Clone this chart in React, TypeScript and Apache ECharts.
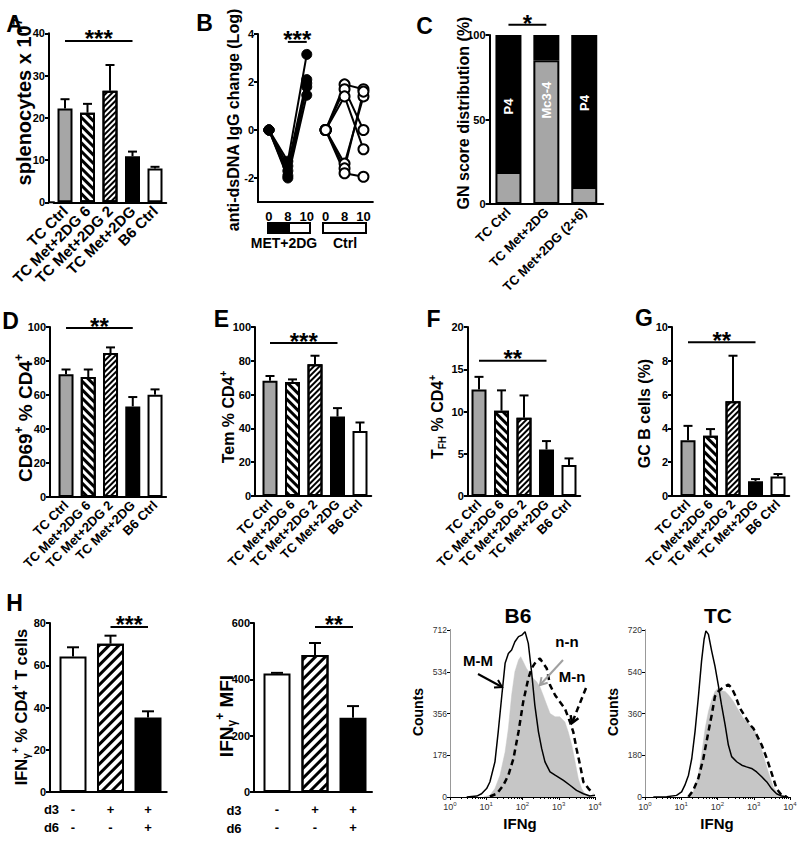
import React, { useEffect, useRef } from 'react';
import * as echarts from 'echarts';

const FONT = "'Liberation Sans', Arial, Helvetica, sans-serif";

// ---------------- data ----------------
const barCategories = ['TC Ctrl', 'TC Met+2DG 6', 'TC Met+2DG 2', 'TC Met+2DG', 'B6 Ctrl'];
const splenoMean = [22.2, 21.2, 26.4, 10.9, 8.0];
const splenoErr = [24.4, 23.3, 32.5, 12.0, 8.4];
const cd69Mean = [72.2, 70.6, 84.7, 53.3, 60.2];
const cd69Err = [75.0, 75.0, 88.0, 58.8, 63.3];
const temMean = [68.2, 67.4, 78.0, 47.0, 38.5];
const temErr = [71.0, 69.0, 83.0, 52.0, 43.5];
const tfhMean = [12.6, 10.1, 9.25, 5.5, 3.66];
const tfhErr = [14.1, 12.5, 11.9, 6.5, 4.45];
const gcMean = [3.3, 3.56, 5.6, 0.88, 1.15];
const gcErr = [4.15, 3.96, 8.3, 1.0, 1.3];

const dsDnaCategories = ['MET+2DG 0', 'MET+2DG 8', 'MET+2DG 10', 'Ctrl 0', 'Ctrl 8', 'Ctrl 10'];
const dsDnaTickLabels = ['0', '8', '10', '0', '8', '10'];
const dsDnaTicks = [-2, 0, 2, 4];
const metMice = [
  [0, -1.3, 3.15],
  [0, -1.5, 2.1],
  [0, -1.7, 1.95],
  [0, -1.9, 1.8],
  [0, -2.0, 1.45],
];
const ctrlMice = [
  [0, 1.9, 1.7],
  [0, 1.7, 0],
  [0, 1.4, -0.8],
  [0, -1.4, 1.4],
  [0, -1.6, 1.6],
  [0, -1.8, -1.95],
];

const gnCategories = ['TC Ctrl', 'TC Met+2DG', 'TC Met+2DG (2+6)'];
const gnGray = [19, 85, 10];
const gnBlack = [81, 15, 90];
const gnBlackLabels = ['P4', '', 'P4'];
const gnGrayLabels = ['', 'Mc3-4', ''];

const d3Signs = ['-', '+', '+'];
const d6Signs = ['-', '-', '+'];
const ifnPctMean = [64.2, 70.2, 35.3];
const ifnPctErr = [68.5, 74.0, 38.2];
const ifnMfiMean = [421, 486, 264];
const ifnMfiErr = [423, 529, 305];

// significance bars: [from category, to category, y value]
const sigA = [0, 3, 38.2];
const sigB = [1, 2, 3.67];
const sigC = [0, 1, 106];
const sigD = [0, 3, 99.4];
const sigE = [0, 3, 90.5];
const sigF = [0, 3, 16];
const sigG = [0, 3, 9.1];
const sigH1 = [1, 2, 78.1];
const sigH2 = [1, 2, 586];
const starsA = '***', starsB = '***', starsC = '*', starsD = '**', starsE = '***', starsF = '**', starsG = '**', starsH1 = '***', starsH2 = '**';

// flow histograms: x = log10(IFNg), y = counts
const b6MMx = [0.46, 0.74, 0.87, 1.01, 1.10, 1.24, 1.33, 1.43, 1.52, 1.61, 1.70, 1.79, 1.89, 1.98, 2.07, 2.16, 2.25, 2.34, 2.44, 2.53, 2.62, 2.76, 2.90, 3.13, 3.31, 3.49, 3.68, 3.86, 4.0];
const b6MMy = [0, 4, 14, 36, 64, 150, 278, 434, 570, 612, 627, 662, 684, 690, 705, 655, 534, 392, 278, 206, 150, 107, 93, 71, 50, 28, 14, 4, 7];
const b6NNx = [0.92, 1.10, 1.24, 1.38, 1.52, 1.61, 1.70, 1.79, 1.89, 1.95, 2.02, 2.11, 2.21, 2.30, 2.39, 2.48, 2.57, 2.67, 2.76, 2.90, 3.03, 3.17, 3.26, 3.36, 3.45, 3.54, 3.63, 3.72, 3.86];
const b6NNy = [0, 7, 36, 93, 192, 292, 434, 534, 584, 598, 577, 548, 527, 505, 491, 470, 434, 392, 356, 342, 342, 320, 278, 221, 150, 78, 36, 14, 4];
const b6MNx = [1.10, 1.29, 1.47, 1.61, 1.75, 1.89, 2.02, 2.16, 2.25, 2.34, 2.48, 2.57, 2.67, 2.76, 2.90, 3.03, 3.17, 3.31, 3.40, 3.49, 3.59, 3.68, 3.82, 3.95];
const b6MNy = [2, 14, 50, 93, 164, 278, 406, 505, 548, 570, 591, 570, 548, 477, 434, 406, 377, 320, 278, 206, 135, 64, 36, 14];
const tcMMx = [0.23, 0.60, 0.87, 1.01, 1.10, 1.20, 1.29, 1.38, 1.47, 1.56, 1.63, 1.68, 1.75, 1.84, 1.93, 2.02, 2.11, 2.21, 2.30, 2.39, 2.53, 2.67, 2.80, 2.94, 3.08, 3.22, 3.36, 3.49, 3.63, 3.77, 3.95];
const tcMMy = [0, 1, 7, 22, 51, 94, 166, 282, 427, 586, 680, 716, 701, 629, 564, 484, 398, 311, 224, 174, 152, 137, 130, 123, 108, 87, 65, 36, 14, 4, 0];
const tcNNx = [1.15, 1.33, 1.47, 1.56, 1.66, 1.75, 1.84, 1.93, 2.02, 2.11, 2.21, 2.30, 2.44, 2.57, 2.71, 2.85, 2.99, 3.13, 3.26, 3.40, 3.54, 3.68, 3.82];
const tcNNy = [0, 22, 94, 181, 296, 369, 419, 455, 470, 458, 455, 441, 412, 376, 340, 318, 296, 253, 181, 108, 43, 10, 1];
const tcMNx = [1.20, 1.33, 1.47, 1.61, 1.75, 1.84, 1.93, 2.02, 2.11, 2.21, 2.30, 2.39, 2.48, 2.62, 2.76, 2.90, 2.99, 3.08, 3.22, 3.36, 3.45, 3.54, 3.63, 3.77, 3.91];
const tcMNy = [1, 29, 80, 166, 282, 354, 434, 455, 467, 477, 484, 470, 441, 383, 347, 311, 296, 268, 224, 166, 123, 80, 36, 7, 1];
const b6Ticks = [0, 178, 356, 534, 712];
const tcTicks = [0, 180, 360, 540, 720];

// ---------------- styles ----------------
const hatchBack = { symbol: 'rect', symbolSize: 1, dashArrayX: [1, 0], dashArrayY: [2.2, 2.6], rotation: Math.PI / 4, color: '#000' };
const hatchFwd = { symbol: 'rect', symbolSize: 1, dashArrayX: [1, 0], dashArrayY: [1.6, 2.0], rotation: -Math.PI / 4, color: '#000' };
const hatchFwdH = { symbol: 'rect', symbolSize: 1, dashArrayX: [1, 0], dashArrayY: [2.4, 3.4], rotation: -Math.PI / 4, color: '#000' };
const barFills = ['#a6a6a6', '#ffffff', '#ffffff', '#000000', '#ffffff'];
const barDecals: any[] = [undefined, hatchBack, hatchFwd, undefined, undefined];
const hFills = ['#ffffff', '#ffffff', '#000000'];
const hDecals: any[] = [undefined, hatchFwdH, undefined];
const gnBlackLabelShift = [-3, 0, 8];
const gnGrayLabelShift = [0, 32, 0];
const STAR_FS = 24;

type G = { l: number; t: number; w: number; h: number; off: number };
const GA: G = { l: 53.75, t: 33.3, w: 112.5, h: 169, off: 4.75 };
const GB: G = { l: 259.5, t: 34, w: 113.4, h: 168, off: 1.5 };
const GC: G = { l: 489.5, t: 35, w: 113.7, h: 169, off: 0 };
const GD: G = { l: 54.9, t: 327, w: 111.25, h: 170, off: 4.9 };
const GE: G = { l: 258.75, t: 327, w: 112.5, h: 169, off: 3.75 };
const GF: G = { l: 467.75, t: 327, w: 112.5, h: 169, off: 0 };
const GG: G = { l: 676.75, t: 327, w: 112.5, h: 169, off: 4.75 };
const GH1: G = { l: 54.25, t: 623, w: 112.5, h: 169, off: 4.25 };
const GH2: G = { l: 258, t: 623, w: 114, h: 169, off: 4 };
const GB6: G = { l: 450, t: 630, w: 145, h: 167, off: 0 };
const GTC: G = { l: 645, t: 630, w: 145, h: 167, off: 0 };

function richT(fs: number) {
  return {
    n: { fontSize: fs, fontWeight: 'bold', fontFamily: FONT, fill: '#000', lineHeight: Math.round(fs * 1.25) },
    sup: { fontSize: Math.round(fs * 0.62), fontWeight: 'bold', fontFamily: FONT, fill: '#000', verticalAlign: 'top' },
    sub: { fontSize: Math.round(fs * 0.62), fontWeight: 'bold', fontFamily: FONT, fill: '#000', verticalAlign: 'bottom' },
  };
}

function buildOption() {
  const grid: any[] = [];
  const xAxis: any[] = [];
  const yAxis: any[] = [];
  const series: any[] = [];
  const graphic: any[] = [];
  const axisLineStyle = { color: '#000', width: 2 };
  const tickStyle = { color: '#000', width: 2 };

  function addGrid(g: G) {
    grid.push({ left: g.l, top: g.t, width: g.w, height: g.h, containLabel: false, outerBoundsMode: 'none' });
    if (g.off > 0) {
      graphic.push({ type: 'line', z: 50, shape: { x1: g.l - g.off - 1, y1: g.t + g.h, x2: g.l + 1, y2: g.t + g.h }, style: { stroke: '#000', lineWidth: 2 } });
    }
    return grid.length - 1;
  }

  function valueY(gi: number, g: G, min: number, max: number, interval: number | undefined, fs: number, extra: any = {}) {
    return {
      type: 'value', gridIndex: gi, min, max, interval, offset: g.off,
      axisLine: { show: true, onZero: false, lineStyle: axisLineStyle },
      axisTick: { show: true, length: 4, lineStyle: tickStyle },
      axisLabel: { fontSize: fs, fontWeight: 'bold', fontFamily: FONT, color: '#000', margin: 4 },
      splitLine: { show: false },
      ...extra,
    };
  }

  function errSeries(ai: number, mean: number[], err: number[], capW: number) {
    return {
      type: 'custom', xAxisIndex: ai, yAxisIndex: ai, z: 3, silent: true,
      data: mean.map((m, i) => [i, m, err[i]]),
      encode: { x: 0, y: [1, 2] },
      renderItem: (_p: any, api: any) => {
        const i = api.value(0), m = api.value(1), e = api.value(2);
        const p0 = api.coord([i, m]);
        const p1 = api.coord([i, e]);
        return {
          type: 'group', children: [
            { type: 'line', shape: { x1: p0[0], y1: p0[1], x2: p1[0], y2: p1[1] }, style: { stroke: '#000', lineWidth: 2 } },
            { type: 'line', shape: { x1: p1[0] - capW / 2, y1: p1[1], x2: p1[0] + capW / 2, y2: p1[1] }, style: { stroke: '#000', lineWidth: 2 } },
          ],
        };
      },
    };
  }

  function sigSeries(ai: number, sig: number[], text: string, fs: number, gap: number) {
    return {
      type: 'custom', xAxisIndex: ai, yAxisIndex: ai, z: 4, silent: true, clip: false,
      data: [sig],
      encode: { x: [0, 1], y: 2 },
      renderItem: (_p: any, api: any) => {
        const p0 = api.coord([api.value(0), api.value(2)]);
        const p1 = api.coord([api.value(1), api.value(2)]);
        return {
          type: 'group', children: [
            { type: 'line', shape: { x1: p0[0], y1: p0[1], x2: p1[0], y2: p1[1] }, style: { stroke: '#000', lineWidth: 2 } },
            { type: 'text', x: (p0[0] + p1[0]) / 2, y: p0[1] - gap, style: { text, fontSize: fs, fontWeight: 'bold', fontFamily: FONT, fill: '#000', align: 'center', verticalAlign: 'middle' } },
          ],
        };
      },
    };
  }

  const catLabel = (fs: number) => ({ rotate: 45, interval: 0, margin: 6, fontSize: fs, fontWeight: 'bold', fontFamily: FONT, color: '#000' });

  function barPanel(g: G, mean: number[], err: number[], max: number, interval: number, sig: number[], stars: string, labelFs: number) {
    const gi = addGrid(g);
    xAxis.push({
      type: 'category', gridIndex: gi, data: barCategories,
      axisLine: { onZero: false, lineStyle: axisLineStyle },
      axisTick: { alignWithLabel: true, length: 4, lineStyle: tickStyle },
      axisLabel: catLabel(labelFs),
      splitLine: { show: false },
    });
    yAxis.push(valueY(gi, g, 0, max, interval, 11));
    series.push({
      type: 'bar', xAxisIndex: gi, yAxisIndex: gi, barWidth: 15, z: 2,
      itemStyle: { borderColor: '#000', borderWidth: 2 },
      data: mean.map((v, i) => ({ value: v, itemStyle: { color: barFills[i], decal: barDecals[i] } })),
    });
    series.push(errSeries(gi, mean, err, 9));
    series.push(sigSeries(gi, sig, stars, STAR_FS, 2));
  }

  // A
  barPanel(GA, splenoMean, splenoErr, 40, 10, sigA, starsA, 15);

  // B
  {
    const gi = addGrid(GB);
    xAxis.push({
      type: 'category', gridIndex: gi, data: dsDnaCategories,
      axisLine: { onZero: false, lineStyle: axisLineStyle },
      axisTick: { alignWithLabel: true, length: 4, lineStyle: tickStyle },
      axisLabel: { interval: 0, margin: 8, fontSize: 13, fontWeight: 'bold', fontFamily: FONT, color: '#000', formatter: (_v: any, i: number) => dsDnaTickLabels[i] },
      splitLine: { show: false },
    });
    yAxis.push(valueY(gi, GB, -3, 4, undefined, 11, {
      axisTick: { show: true, length: 4, lineStyle: tickStyle, customValues: dsDnaTicks },
      axisLabel: { fontSize: 11, fontWeight: 'bold', fontFamily: FONT, color: '#000', margin: 4, customValues: dsDnaTicks },
    }));
    metMice.forEach((m) => {
      series.push({
        type: 'line', xAxisIndex: gi, yAxisIndex: gi, z: 5, symbol: 'circle', symbolSize: 10, showAllSymbol: true,
        lineStyle: { color: '#000', width: 2 }, itemStyle: { color: '#000', borderColor: '#000', borderWidth: 1 },
        data: m.map((v, i) => [i, v]),
      });
    });
    ctrlMice.forEach((m) => {
      series.push({
        type: 'line', xAxisIndex: gi, yAxisIndex: gi, z: 5, symbol: 'circle', symbolSize: 10, showAllSymbol: true,
        lineStyle: { color: '#000', width: 2 }, itemStyle: { color: '#fff', borderColor: '#000', borderWidth: 2 },
        data: m.map((v, i) => [i + 3, v]),
      });
    });
    series.push(sigSeries(gi, sigB, starsB, STAR_FS, 2));
  }

  // C
  {
    const gi = addGrid(GC);
    xAxis.push({
      type: 'category', gridIndex: gi, data: gnCategories,
      axisLine: { onZero: false, lineStyle: axisLineStyle },
      axisTick: { alignWithLabel: true, length: 4, lineStyle: tickStyle },
      axisLabel: catLabel(13),
      splitLine: { show: false },
    });
    yAxis.push(valueY(gi, GC, 0, 100, 50, 11));
    const lab = { show: true, position: 'inside', rotate: 90, color: '#fff', fontSize: 13, fontWeight: 'bold', fontFamily: FONT };
    series.push({
      type: 'bar', xAxisIndex: gi, yAxisIndex: gi, stack: 'gn', barWidth: 26, z: 2,
      itemStyle: { color: '#a6a6a6', borderColor: '#000', borderWidth: 2 },
      data: gnGray.map((v, i) => ({ value: v, label: gnGrayLabels[i] ? { ...lab, formatter: gnGrayLabels[i], offset: [gnGrayLabelShift[i], 0] } : { show: false } })),
    });
    series.push({
      type: 'bar', xAxisIndex: gi, yAxisIndex: gi, stack: 'gn', barWidth: 26, z: 2,
      itemStyle: { color: '#000', borderColor: '#000', borderWidth: 2 },
      data: gnBlack.map((v, i) => ({ value: v, label: gnBlackLabels[i] ? { ...lab, formatter: gnBlackLabels[i], offset: [gnBlackLabelShift[i], 0] } : { show: false } })),
    });
    series.push(sigSeries(gi, sigC, starsC, STAR_FS, 1));
  }

  // D E F G
  barPanel(GD, cd69Mean, cd69Err, 100, 20, sigD, starsD, 13);
  barPanel(GE, temMean, temErr, 100, 20, sigE, starsE, 13);
  barPanel(GF, tfhMean, tfhErr, 20, 5, sigF, starsF, 13);
  barPanel(GG, gcMean, gcErr, 10, 2, sigG, starsG, 13);

  // H1, H2
  function hPanel(g: G, mean: number[], err: number[], max: number, interval: number, sig: number[], stars: string) {
    const gi = addGrid(g);
    xAxis.push({
      type: 'category', gridIndex: gi, data: d3Signs.map((d, i) => d + '\n' + d6Signs[i]),
      axisLine: { onZero: false, lineStyle: axisLineStyle },
      axisTick: { alignWithLabel: true, length: 4, lineStyle: tickStyle },
      axisLabel: { interval: 0, margin: 8, fontSize: 13, lineHeight: 18, fontWeight: 'bold', fontFamily: FONT, color: '#000' },
      splitLine: { show: false },
    });
    yAxis.push(valueY(gi, g, 0, max, interval, 11));
    series.push({
      type: 'bar', xAxisIndex: gi, yAxisIndex: gi, barWidth: 27, z: 2,
      itemStyle: { borderColor: '#000', borderWidth: 2 },
      data: mean.map((v, i) => ({ value: v, itemStyle: { color: hFills[i], decal: hDecals[i] } })),
    });
    series.push(errSeries(gi, mean, err, 12));
    series.push(sigSeries(gi, sig, stars, STAR_FS - 1, 2));
  }
  hPanel(GH1, ifnPctMean, ifnPctErr, 80, 20, sigH1, starsH1);
  hPanel(GH2, ifnMfiMean, ifnMfiErr, 600, 200, sigH2, starsH2);

  // histograms
  const minorTicks: number[] = [];
  for (let n = 0; n < 4; n++) for (let k = 2; k <= 9; k++) minorTicks.push(n + Math.log10(k));

  function histPanel(g: G, max: number, ticks: number[], mmx: number[], mmy: number[], nnx: number[], nny: number[], mnx: number[], mny: number[]) {
    const gi = addGrid(g);
    xAxis.push({
      type: 'value', gridIndex: gi, min: 0, max: 4, interval: 1,
      axisLine: { onZero: false, lineStyle: { color: '#000', width: 1 } },
      axisTick: { show: true, length: 3, lineStyle: { color: '#000', width: 1 } },
      axisLabel: {
        margin: 4, formatter: (v: number) => '{b|10}{s|' + v + '}',
        rich: {
          b: { fontSize: 9, fontFamily: FONT, color: '#333', lineHeight: 12 },
          s: { fontSize: 6, fontFamily: FONT, color: '#333', verticalAlign: 'top' },
        },
      },
      splitLine: { show: false },
    });
    yAxis.push({
      type: 'value', gridIndex: gi, min: 0, max,
      axisLine: { show: true, onZero: false, lineStyle: { color: '#000', width: 1 } },
      axisTick: { show: true, length: 3, lineStyle: { color: '#000', width: 1 }, customValues: ticks },
      axisLabel: { fontSize: 8.5, fontFamily: FONT, color: '#333', margin: 3, customValues: ticks },
      splitLine: { show: false },
    });
    series.push({
      type: 'line', xAxisIndex: gi, yAxisIndex: gi, z: 1, symbol: 'none', silent: true,
      lineStyle: { color: '#c6c6c6', width: 0.5 }, areaStyle: { color: '#c6c6c6', opacity: 1 },
      data: nnx.map((x, i) => [x, nny[i]]),
    });
    series.push({
      type: 'line', xAxisIndex: gi, yAxisIndex: gi, z: 2, symbol: 'none', silent: true,
      lineStyle: { color: '#000', width: 1.5 },
      data: mmx.map((x, i) => [x, mmy[i]]),
    });
    series.push({
      type: 'line', xAxisIndex: gi, yAxisIndex: gi, z: 3, symbol: 'none', silent: true,
      lineStyle: { color: '#000', width: 2.5, type: [6, 4] },
      data: mnx.map((x, i) => [x, mny[i]]),
    });
    return gi;
  }
  const gB6 = histPanel(GB6, 712, b6Ticks, b6MMx, b6MMy, b6NNx, b6NNy, b6MNx, b6MNy);
  const gTC = histPanel(GTC, 720, tcTicks, tcMMx, tcMMy, tcNNx, tcNNy, tcMNx, tcMNy);
  [[gB6, 712], [gTC, 720]].forEach(([gi, max]) => {
    xAxis.push({
      type: 'value', gridIndex: gi, min: 0, max: 4, position: 'bottom',
      axisLine: { show: false }, axisLabel: { show: false }, splitLine: { show: false },
      axisTick: { show: true, length: 2, lineStyle: { color: '#000', width: 1 }, customValues: minorTicks },
    });
    yAxis.push({
      type: 'value', gridIndex: gi, min: 0, max, position: 'right',
      axisLine: { show: true, lineStyle: { color: '#999', width: 1 } },
      axisTick: { show: false }, axisLabel: { show: false }, splitLine: { show: false },
    });
  });

  // ---------------- decorations ----------------
  const letters: [string, number, number][] = [
    ['A', 14.5, 24], ['B', 204.5, 23], ['C', 424.5, 25.5], ['D', 10.5, 320.5],
    ['E', 221.5, 319], ['F', 433.5, 319], ['G', 644, 318], ['H', 14.5, 602.5],
  ];
  letters.forEach(([t, x, y]) => graphic.push({
    type: 'text', z: 50, x, y, style: { text: t, fontSize: 23, fontWeight: 'bold', fontFamily: FONT, fill: '#000', align: 'center', verticalAlign: 'middle' },
  }));

  const yTitles: [string, number, number, number][] = [
    ['{n|splenocytes x 10}{sup|7}', 20, 24, 102],
    ['{n|anti-dsDNA IgG change (Log)}', 16, 233, 120],
    ['{n|GN score distribution (%)}', 16, 463, 113],
    ['{n|CD69}{sup|+}{n| % CD4}{sup|+}', 19, 25, 418],
    ['{n|Tem % CD4}{sup|+}', 16, 228, 417],
    ['{n|T}{sub|FH}{n| % CD4}{sup|+}', 16, 437, 417],
    ['{n|GC B cells (%)}', 16, 644, 413.5],
    ['{n|IFN}{sub|γ}{sup|+}{n| % CD4}{sup|+}{n| T cells}', 16.5, 21, 707],
    ['{n|IFN}{sub|γ}{sup|+}{n| MFI}', 19, 226, 716],
  ];
  yTitles.forEach(([t, fs, x, y]) => graphic.push({
    type: 'text', z: 55, x, y, rotation: Math.PI / 2,
    style: { text: t, rich: richT(fs), fontSize: fs, fontWeight: 'bold', fontFamily: FONT, fill: '#000', align: 'center', verticalAlign: 'middle' },
  }));

  // B legend boxes
  graphic.push({ type: 'rect', z: 50, shape: { x: 268, y: 223, width: 21, height: 10 }, style: { fill: '#000', stroke: '#000', lineWidth: 2 } });
  graphic.push({ type: 'rect', z: 50, shape: { x: 289, y: 223, width: 21, height: 10 }, style: { fill: '#fff', stroke: '#000', lineWidth: 2 } });
  graphic.push({ type: 'rect', z: 50, shape: { x: 323, y: 223, width: 43, height: 10 }, style: { fill: '#fff', stroke: '#000', lineWidth: 2 } });
  const plainTexts: [string, number, number, number][] = [
    ['MET+2DG', 14, 284, 243], ['Ctrl', 14, 345, 243],
    ['d3', 13, 51.5, 809], ['d6', 13, 51.5, 827], ['d3', 13, 234, 810], ['d6', 13, 234, 828],
    ['B6', 21, 518, 615], ['TC', 21, 718, 615],
    ['IFNg', 15, 520, 823], ['IFNg', 15, 717, 823],
    ['M-M', 15, 478, 660], ['n-n', 15, 567, 641], ['M-n', 15, 572, 676],
  ];
  plainTexts.forEach(([t, fs, x, y]) => graphic.push({
    type: 'text', z: 50, x, y, style: { text: t, fontSize: fs, fontWeight: 'bold', fontFamily: FONT, fill: '#000', align: 'center', verticalAlign: 'middle' },
  }));
  [[418, 712], [612.5, 712]].forEach(([x, y]) => graphic.push({
    type: 'text', z: 50, x, y, rotation: Math.PI / 2,
    style: { text: 'Counts', fontSize: 14, fontWeight: 'bold', fontFamily: FONT, fill: '#000', align: 'center', verticalAlign: 'middle' },
  }));

  function arrow(x1: number, y1: number, x2: number, y2: number, color: string, width: number, dash?: number[]) {
    const ang = Math.atan2(y2 - y1, x2 - x1);
    const L = 8, a = 0.55;
    const p1 = [x2 - L * Math.cos(ang - a), y2 - L * Math.sin(ang - a)];
    const p2 = [x2 - L * Math.cos(ang + a), y2 - L * Math.sin(ang + a)];
    graphic.push({ type: 'line', z: 60, shape: { x1, y1, x2, y2 }, style: { stroke: color, lineWidth: width, lineDash: dash } });
    graphic.push({ type: 'polyline', z: 60, shape: { points: [p1, [x2, y2], p2] }, style: { stroke: color, lineWidth: width, fill: null } });
  }
  arrow(478, 674, 502, 687, '#000', 2);
  arrow(563, 660, 540, 685, '#a0a0a0', 2);
  arrow(586, 688, 572, 723, '#000', 2.5, [6, 4]);

  return {
    animation: false,
    backgroundColor: '#fff',
    textStyle: { fontFamily: FONT },
    grid, xAxis, yAxis, series, graphic,
  };
}

export default function App() {
  const ref = useRef<HTMLDivElement>(null);
  useEffect(() => {
    if (!ref.current) return;
    const chart = echarts.init(ref.current, null, { renderer: 'svg' });
    chart.setOption(buildOption() as any);
    return () => chart.dispose();
  }, []);
  return <div ref={ref} style={{ position: 'fixed', left: 0, top: 0, width: 800, height: 848, background: '#fff' }} />;
}
